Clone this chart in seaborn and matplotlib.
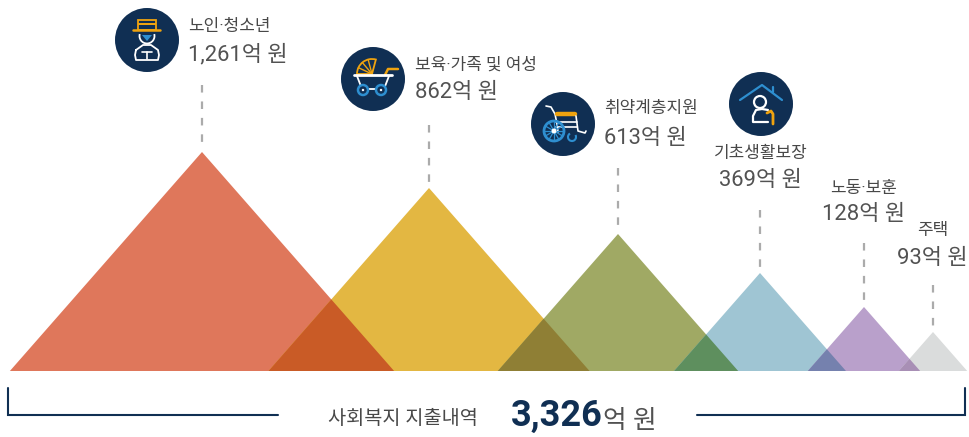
"""Welfare spending triangles: overlapping peaks with icons, labels and total bracket."""
import numpy as np
import pandas as pd
import matplotlib
matplotlib.use("Agg")
import matplotlib.pyplot as plt
import seaborn as sns
from matplotlib.patches import Circle, Wedge, Arc, Rectangle

sns.set_theme(style="white")
plt.rcParams["font.family"] = ["Roboto", "Noto Sans CJK KR", "DejaVu Sans"]

categories = ["노인·청소년", "보육·가족 및 여성", "취약계층지원", "기초생활보장", "노동·보훈", "주택"]
values = [1261, 862, 613, 369, 128, 93]
total_label = "사회복지 지출내역"
total_value = 3326
unit = "억 원"
peak_heights = [219, 183, 137, 98, 64, 39]

NAVY = "#102F53"
TEXT = "#484848"
VALUE_TEXT = "#525252"
ORANGE = "#EFA30F"
BLUE = "#2E8FD0"
tri_colors = ["#DF775B", "#E3B742", "#A0A964", "#9FC5D3", "#B9A0CB", "#DADCDC"]
overlap_colors = ["#C95B26", "#8F7F35", "#5E8F5E", "#7581AE", "#A88FB5"]

BASE_Y = 371
SLOPE = 1.14
peak_x = [202, 429, 618, 760, 864, 933]
leader_top = [85, 125, 168, 210, 243, 285]

df = pd.DataFrame({"category": categories, "value": values, "height": peak_heights, "x": peak_x})
df["half"] = df["height"] / SLOPE
df["left"] = df["x"] - df["half"]
df["right"] = df["x"] + df["half"]

fig, ax = plt.subplots(figsize=(9.69, 4.37), dpi=100)
fig.subplots_adjust(0, 0, 1, 1)
ax.set_xlim(0, 969)
ax.set_ylim(437, 0)
ax.axis("off")

# triangles
for i, row in df.iterrows():
    ax.fill([row["left"], row["x"], row["right"]],
            [BASE_Y, BASE_Y - row["height"], BASE_Y],
            color=tri_colors[i], lw=0, zorder=2)

# overlap of neighbouring triangles, no multiply blend in matplotlib so compute it
for i in range(len(df) - 1):
    a, b = df.iloc[i], df.iloc[i + 1]
    mid = (a["right"] + b["left"]) / 2
    h = (a["right"] - b["left"]) / 2 * SLOPE
    ax.fill([b["left"], mid, a["right"]], [BASE_Y, BASE_Y - h, BASE_Y],
            color=overlap_colors[i], lw=0, zorder=3)

# dashed leaders
leaders = pd.DataFrame({
    "x": np.repeat(df["x"].values, 2),
    "y": np.column_stack([leader_top, BASE_Y - df["height"].values - 2]).ravel(),
    "cat": np.repeat(categories, 2),
})
sns.lineplot(data=leaders, x="x", y="y", units="cat", estimator=None, sort=False,
             color="#ABABAB", lw=1.6, ax=ax, zorder=1, dashes=False, linestyle=(0, (3.4, 4.0)))
ax.set_xlim(0, 969)
ax.set_ylim(437, 0)
ax.axis("off")

# labels
name_pos = [(188, 27, "left"), (415, 65, "left"), (604, 109, "left"),
            (761, 153, "center"), (864, 188, "center"), (933, 230, "center")]
value_pos = [(188, 55, "left"), (415, 93, "left"), (604, 138, "left"),
             (760, 181, "center"), (864, 215, "center"), (932, 258, "center")]
for name, val, np_, vp in zip(categories, values, name_pos, value_pos):
    ax.text(np_[0], np_[1], name, ha=np_[2], va="center", fontsize=12.2, color=TEXT)
    ax.text(vp[0], vp[1], f"{val:,}{unit}", ha=vp[2], va="center", fontsize=15.8, color=VALUE_TEXT)

# bracket and total
ax.plot([8, 8, 278], [388, 415, 415], color=NAVY, lw=1.5, solid_joinstyle="miter")
ax.plot([697, 965, 965], [415, 415, 388], color=NAVY, lw=1.5, solid_joinstyle="miter")
ax.text(403, 418, total_label, ha="center", va="center", fontsize=14.2, color=TEXT)
ax.text(511, 416, f"{total_value:,}", ha="left", va="center", fontsize=26, color=NAVY, weight="bold")
ax.text(603, 421, unit, ha="left", va="center", fontsize=18.5, color=VALUE_TEXT)


def stroke(xs, ys, color="white", lw=1.5):
    ax.plot(xs, ys, color=color, lw=lw, zorder=7, solid_capstyle="round", solid_joinstyle="round")


for cx, cy in [(147, 40), (373, 79), (563, 124), (761, 104)]:
    ax.add_patch(Circle((cx, cy), 32, color=NAVY, lw=0, zorder=5))

# old man icon
ax.add_patch(Rectangle((138, 20), 18, 10, fc="none", ec=ORANGE, lw=1.3, zorder=7))
ax.add_patch(Rectangle((138, 23), 18, 2, fc=ORANGE, ec="none", zorder=7))
stroke([133, 160], [30, 30], ORANGE, 1.8)
ax.add_patch(Arc((147, 36), 15, 15, theta1=-15, theta2=195, ec="white", lw=1.3, zorder=7))
ax.fill([142, 152, 147], [35, 35, 41], color=BLUE, lw=0, zorder=7)
stroke([136, 135, 136, 158, 159, 158, 151, 143, 136],
       [50, 55, 60, 60, 55, 50, 45, 45, 50], "white", 1.3)
stroke([142, 152], [52, 52], "white", 1.2)
stroke([147, 147], [52, 59], "white", 1.2)

# stroller icon
ax.add_patch(Wedge((372, 74), 15, 180, 285, fc="none", ec=ORANGE, lw=1.3, zorder=7))
for ang in [205, 230, 255]:
    rad = np.radians(ang)
    stroke([372, 372 + 15 * np.cos(rad)], [74, 74 + 15 * np.sin(rad)], ORANGE, 1)
stroke([385, 388, 398], [75, 69, 69], ORANGE, 1.8)
stroke([354, 392], [75, 75], "white", 2)
stroke([357, 362, 384, 389], [76, 89, 89, 76], "white", 1.3)
for wx in [363, 381]:
    ax.add_patch(Circle((wx, 90), 5, fc=NAVY, ec=BLUE, lw=1.8, zorder=8))
    ax.add_patch(Circle((wx, 90), 1.2, color="white", lw=0, zorder=9))

# wheelchair icon
stroke([546, 551, 555, 557, 558], [106, 107, 114, 124, 132], "white", 1.2)
stroke([557, 575], [114, 114], ORANGE, 3.2)
stroke([556, 577], [122, 122], "white", 1.2)
stroke([556, 577], [127, 127], "white", 1.2)
stroke([576, 578, 585, 586], [116, 131, 133, 131], "white", 1.2)
ax.add_patch(Circle((554, 131), 10, fc="none", ec=BLUE, lw=2, zorder=8))
for ang in range(0, 180, 30):
    rad = np.radians(ang)
    stroke([554 - 10 * np.cos(rad), 554 + 10 * np.cos(rad)],
           [131 - 10 * np.sin(rad), 131 + 10 * np.sin(rad)], BLUE, 0.9)
ax.add_patch(Circle((554, 131), 2.5, color="white", lw=0, zorder=9))
ax.add_patch(Arc((572, 137), 8, 8, theta1=-30, theta2=240, ec=BLUE, lw=1.5, zorder=8))

# house and person icon
stroke([740, 762, 782], [100, 85, 100], BLUE, 1.6)
stroke([773, 773], [92, 87], BLUE, 1.6)
ax.add_patch(Circle((760, 102), 6, fc="none", ec="white", lw=1.6, zorder=8))
stroke([768, 753, 753, 756, 762, 768], [122, 122, 116, 110, 109, 110], "white", 1.6)
stroke([773, 773, 771, 767], [124, 114, 111, 113], ORANGE, 2)

fig.savefig("out.png", dpi=100)
